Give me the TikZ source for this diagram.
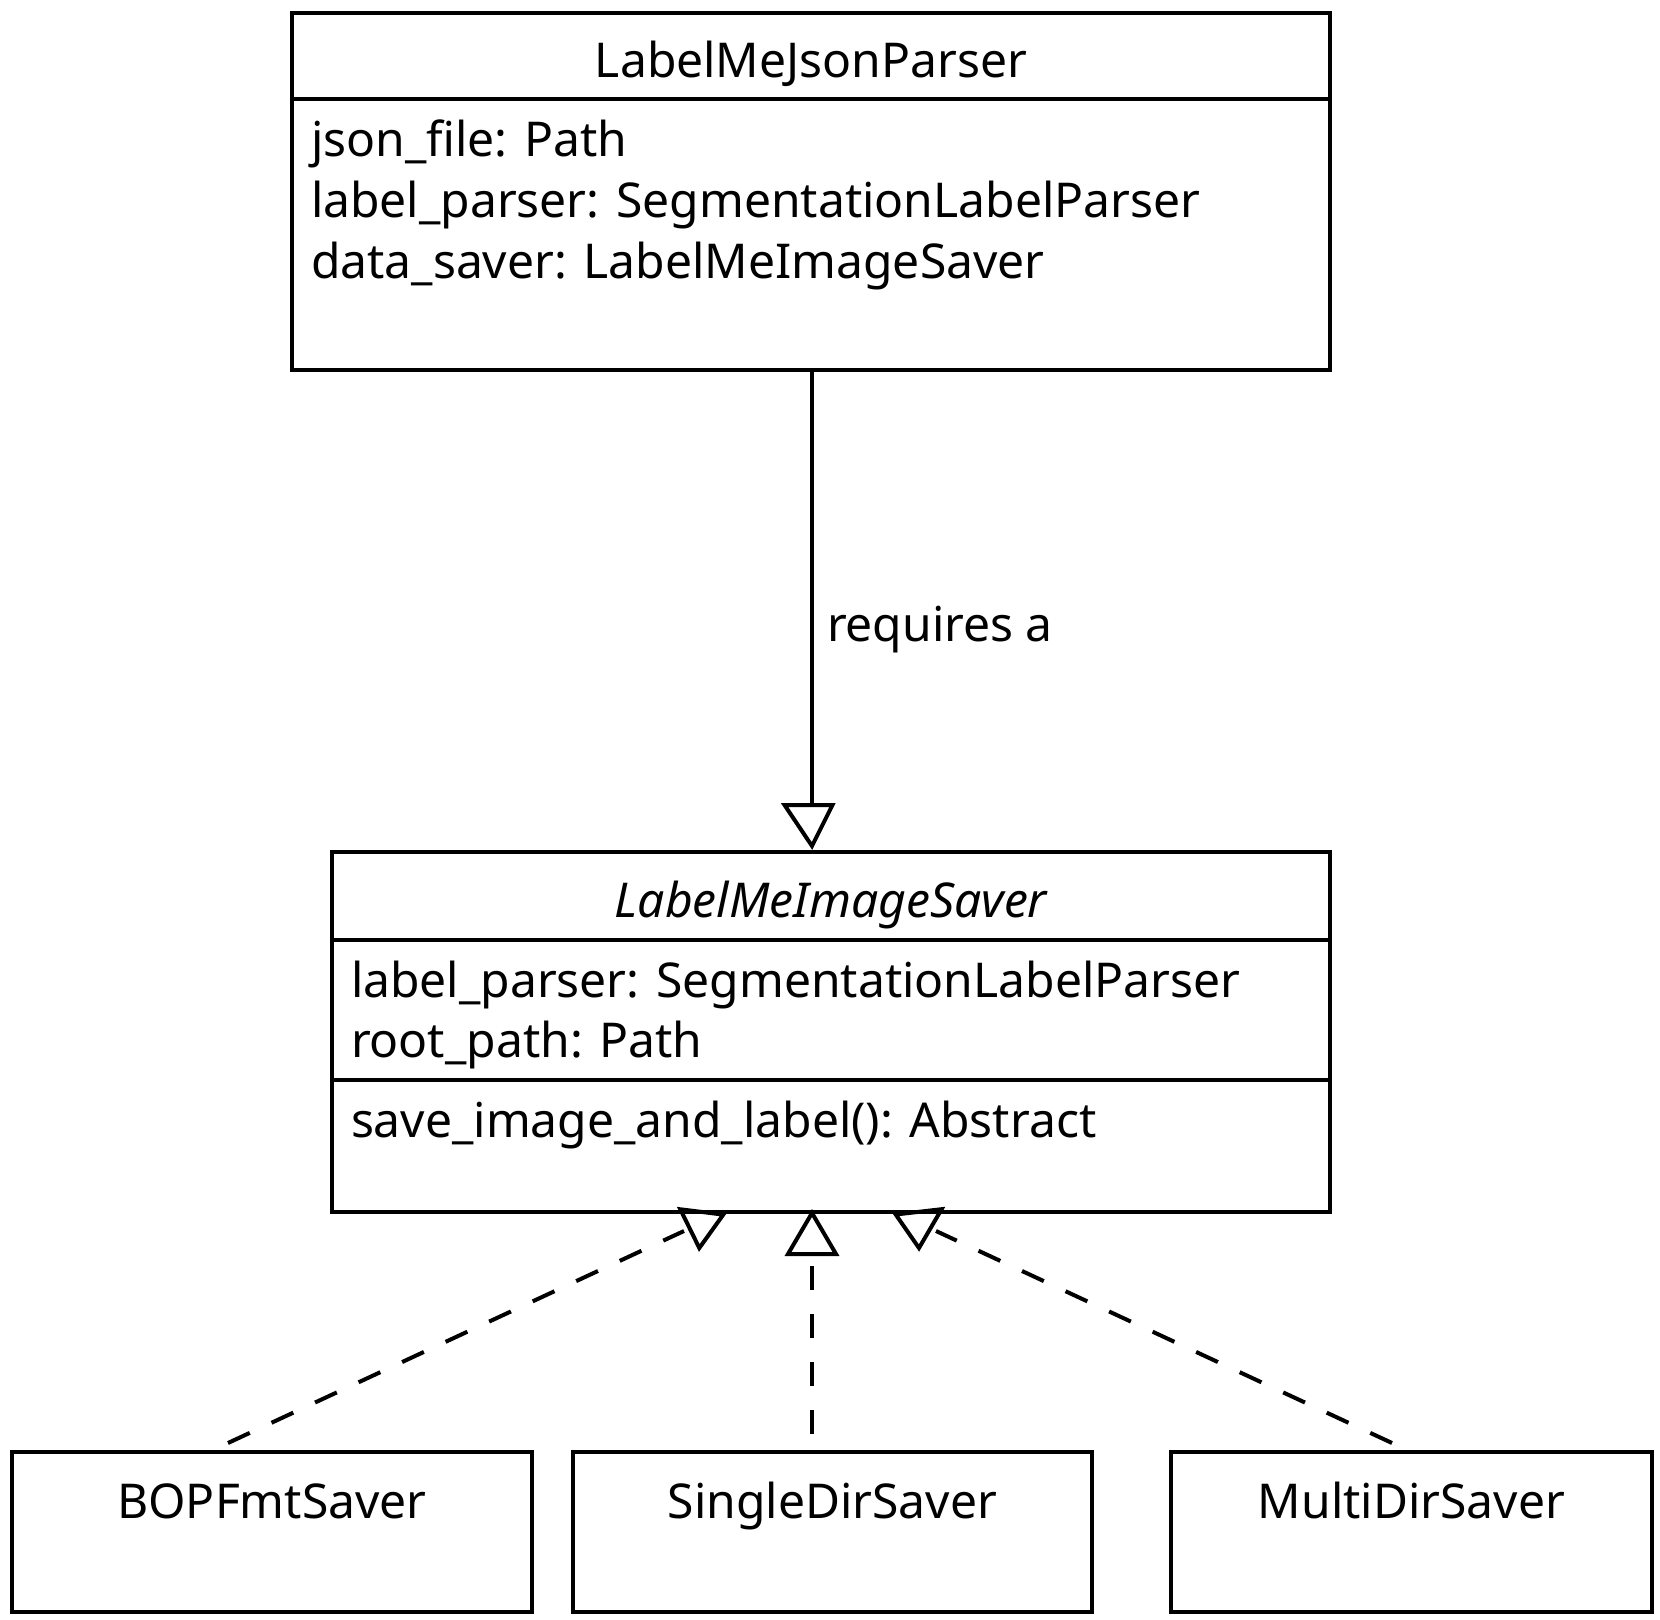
\documentclass[tikz,border=0pt]{standalone}
\usepackage{fontspec}
\setmainfont{Noto Sans}
\begin{document}
\begin{tikzpicture}[x=0.5pt,y=-0.5pt,
  umlbox/.style={draw, rectangle, line width=2pt, inner sep=0pt, outer sep=0pt},
  txt/.style={inner sep=0pt, outer sep=0pt, font=\fontsize{24}{29}\selectfont},
  divider/.style={line width=2pt},
  link/.style={line width=2pt},
  dashlink/.style={line width=2pt, dash pattern=on 12pt off 12pt},
  opentri/.style={draw, line width=2pt, line join=miter}]
\useasboundingbox (0,0) rectangle (1660,1620);

% top class
\node[umlbox, minimum width=519pt, minimum height=178.5pt] (parser) at (811,191.5) {};
\draw[divider] (parser.west |- 0,99.5) -- (parser.east |- 0,99.5);
\node[txt, anchor=base] (parsertitle) at (811,78) {LabelMeJsonParser};
\node[txt, anchor=base west] (pa1) at (311,157) {json\_file: Path};
\node[txt, anchor=base west] (pa2) at (311,218) {label\_parser: SegmentationLabelParser};
\node[txt, anchor=base west] (pa3) at (311,279) {data\_saver: LabelMeImageSaver};

% abstract class
\node[umlbox, minimum width=499pt, minimum height=180pt] (saver) at (831,1032) {};
\draw[divider] (saver.west |- 0,940) -- (saver.east |- 0,940);
\draw[divider] (saver.west |- 0,1080) -- (saver.east |- 0,1080);
\node[txt, anchor=base] (savertitle) at (831,917) {\itshape LabelMeImageSaver};
\node[txt, anchor=base west] (sa1) at (351,997) {label\_parser: SegmentationLabelParser};
\node[txt, anchor=base west] (sa2) at (351,1057) {root\_path: Path};
\node[txt, anchor=base west] (sm1) at (351,1137) {save\_image\_and\_label(): Abstract};

% subclasses
\node[umlbox, minimum width=260pt, minimum height=80pt] (bopf) at (272,1532) {};
\node[umlbox, minimum width=259.5pt, minimum height=80pt] (single) at (832.5,1532) {};
\node[umlbox, minimum width=240.5pt, minimum height=80pt] (multi) at (1411.5,1532) {};
\node[txt, anchor=base] (bopft) at (272,1518) {BOPFmtSaver};
\node[txt, anchor=base] (singlet) at (832.5,1518) {SingleDirSaver};
\node[txt, anchor=base] (multit) at (1411.5,1518) {MultiDirSaver};

% requires a
\coordinate (reqend) at (812,805);
\draw[link] (parser.south -| reqend) -- (reqend);
\draw[opentri] (784.5,805) -- (832.5,805) -- (812,846) -- cycle;
\node[txt, anchor=base west] (reqlabel) at (827,642) {requires a};

% realizations
\coordinate (bopfstart) at (228,1443);
\coordinate (bopfend) at (684,1231);
\coordinate (singlestart) at (812,1434);
\coordinate (singleend) at (812,1256);
\coordinate (multistart) at (1392,1443);
\coordinate (multiend) at (936,1231);
\draw[dashlink] (bopfstart) -- (bopfend);
\draw[dashlink] (singlestart) -- (singleend);
\draw[dashlink] (multistart) -- (multiend);
\draw[opentri] (680.3,1209.3) -- (723.3,1214.6) -- (699.3,1248) -- cycle;
\draw[opentri] (812,1213) -- (836,1254) -- (788,1254) -- cycle;
\draw[opentri] (895.7,1214.5) -- (941.6,1209.2) -- (919,1248) -- cycle;
\end{tikzpicture}
\end{document}
